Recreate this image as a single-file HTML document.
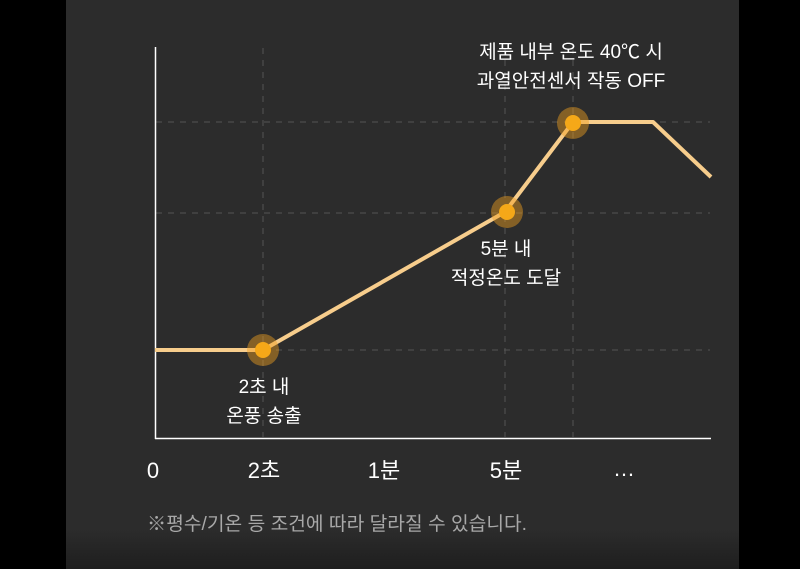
<!DOCTYPE html>
<html><head><meta charset="utf-8"><style>
body{margin:0;width:800px;height:569px;background:#000;overflow:hidden;font-family:"Liberation Sans","Noto Sans CJK KR",sans-serif}
</style></head><body>
<svg width="800" height="569" xmlns="http://www.w3.org/2000/svg" style="position:absolute;left:0;top:0">
<defs><linearGradient id="g" x1="0" y1="0" x2="0" y2="1"><stop offset="0" stop-color="#2c2c2c"/><stop offset="0.93" stop-color="#2c2c2c"/><stop offset="1" stop-color="#1e1e1e"/></linearGradient></defs>
<rect x="66" y="0" width="673" height="569" fill="url(#g)"/>
<g stroke="#555" stroke-width="1" stroke-dasharray="6,6">
<line x1="156" y1="122" x2="710" y2="122"/><line x1="156" y1="213" x2="710" y2="213"/><line x1="156" y1="350" x2="710" y2="350"/>
<line x1="263" y1="48" x2="263" y2="437"/><line x1="505" y1="48" x2="505" y2="437"/><line x1="573" y1="48" x2="573" y2="437"/>
</g>
<line x1="155.5" y1="47" x2="155.5" y2="439" stroke="#fff" stroke-width="1.5"/>
<line x1="155" y1="438.5" x2="711" y2="438.5" stroke="#fff" stroke-width="1.5"/>
<polyline points="155,350 263,350 505,212 573,122 653,122 711,177" fill="none" stroke="#f7cd8c" stroke-width="4" stroke-linejoin="round"/>
<g><circle cx="263" cy="350" r="16" fill="#f0a020" opacity="0.45"/><circle cx="263" cy="350" r="8" fill="#f5a818"/>
<circle cx="507" cy="212" r="16" fill="#f0a020" opacity="0.45"/><circle cx="507" cy="212" r="8" fill="#f5a818"/>
<circle cx="573" cy="123" r="16" fill="#f0a020" opacity="0.45"/><circle cx="573" cy="123" r="8" fill="#f5a818"/></g>
<g fill="#fff" font-size="19" text-anchor="middle">
<text x="571" y="58">제품 내부 온도 40℃ 시</text>
<text x="571" y="87">과열안전센서 작동 OFF</text>
<text x="506" y="255">5분 내</text>
<text x="506" y="284">적정온도 도달</text>
<text x="264" y="393">2초 내</text>
<text x="264" y="422">온풍 송출</text>
</g>
<g fill="#fff" font-size="22" text-anchor="middle">
<text x="153" y="478">0</text><text x="264" y="478">2초</text><text x="384" y="478">1분</text><text x="506" y="478">5분</text><text x="624" y="476">…</text>
</g>
<text x="147" y="530" fill="#a8a8a8" font-size="19" textLength="380" lengthAdjust="spacingAndGlyphs">※평수/기온 등 조건에 따라 달라질 수 있습니다.</text>
</svg>
</body></html>
